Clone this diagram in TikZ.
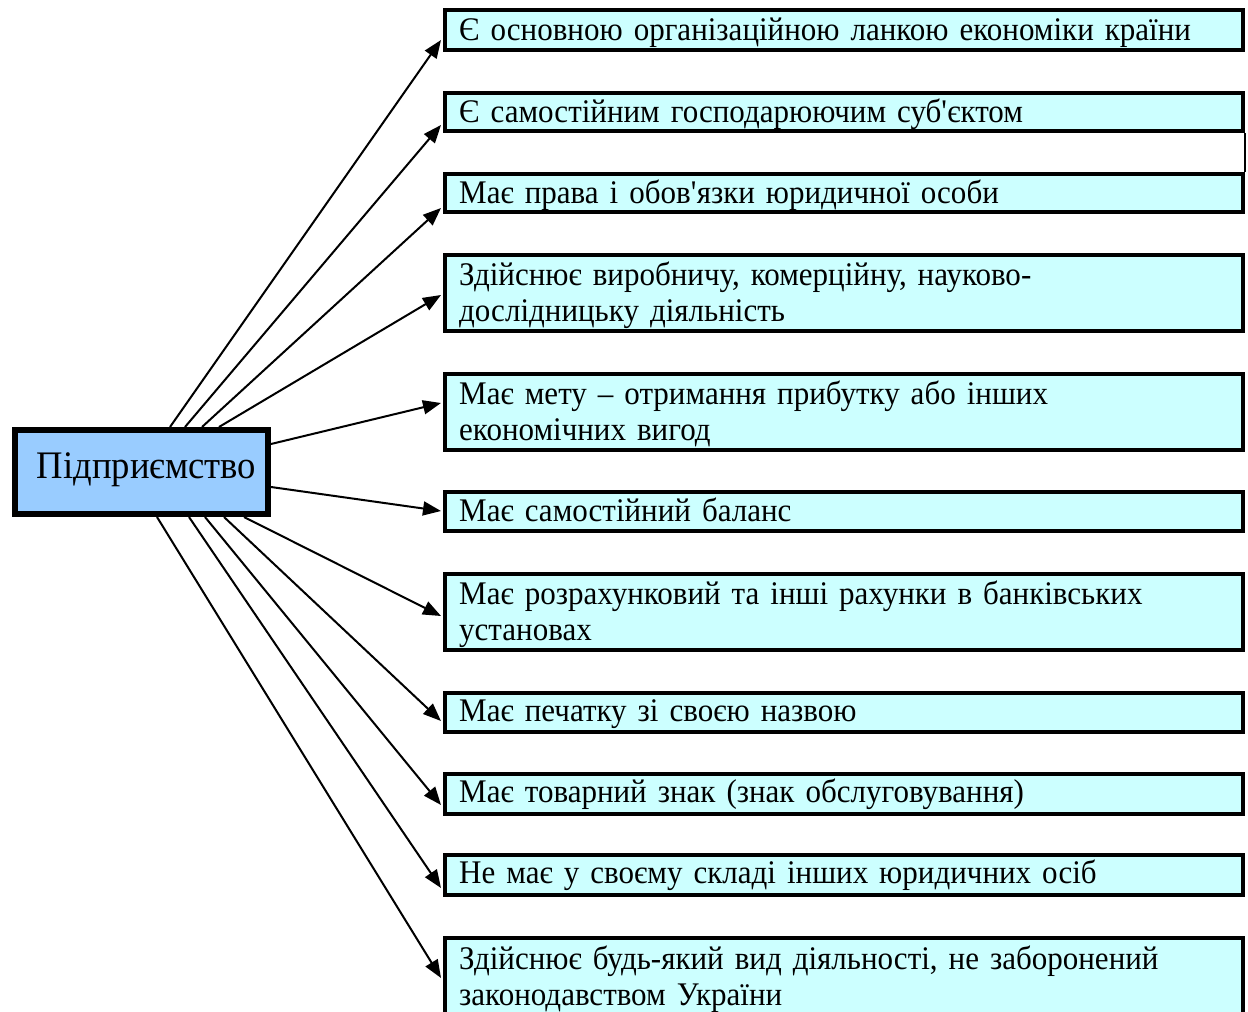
\documentclass[tikz,border=0pt]{standalone}
\usepackage{fontspec}
\setmainfont{Liberation Serif}[FakeStretch=0.94]
\usetikzlibrary{arrows.meta,calc}
\definecolor{boxfill}{HTML}{CCFFFF}
\definecolor{mainfill}{HTML}{99CCFF}
\newcommand{\apos}{\textquotesingle}
\begin{document}
\begin{tikzpicture}[x=1pt,y=-1pt,
  itembox/.style={draw=black,line width=4pt,fill=boxfill,minimum width=798pt,inner sep=0pt},
  itemtext/.style={anchor=base west,inner sep=0pt,text width=770pt,align=left,
    font=\fontsize{33}{36}\selectfont},
  mainbox/.style={draw=black,line width=6pt,fill=mainfill,minimum width=253pt,
    minimum height=84pt,inner sep=0pt,text height=27pt,text depth=15pt,
    font=\fontsize{39}{44}\selectfont},
  arr/.style={line width=2pt,-{Triangle[length=18pt,width=14pt]}}]
\useasboundingbox (0,0) rectangle (1248,1012);
\clip (0,0) rectangle (1248,1012);
\node[mainbox] (c) at (141.5,472) {\hspace*{10pt}Підприємство};
\node[itembox,minimum height=40pt] (b1) at (844,30) {};
\node[itembox,minimum height=38pt] (b2) at (844,112) {};
\node[itembox,minimum height=38pt] (b3) at (844,193) {};
\node[itembox,minimum height=76pt] (b4) at (844,293) {};
\node[itembox,minimum height=76pt] (b5) at (844,412) {};
\node[itembox,minimum height=39pt] (b6) at (844,511.5) {};
\node[itembox,minimum height=76pt] (b7) at (844,612) {};
\node[itembox,minimum height=39pt] (b8) at (844,712.5) {};
\node[itembox,minimum height=40pt] (b9) at (844,794) {};
\node[itembox,minimum height=40pt] (b10) at (844,875) {};
\node[itembox,minimum height=80pt] (b11) at (844,978) {};
\node[itemtext] (t1) at ($(b1.north west)+(16,32)$) {Є основною організаційною ланкою економіки країни};
\node[itemtext] (t2) at ($(b2.north west)+(16,31)$) {Є самостійним господарюючим суб\apos єктом};
\node[itemtext] (t3) at ($(b3.north west)+(16,31)$) {Має права і обов\apos язки юридичної особи};
\node[itemtext] (t4) at ($(b4.north west)+(16,32)$) {Здійснює виробничу, комерційну, науково-\\дослідницьку діяльність};
\node[itemtext] (t5) at ($(b5.north west)+(16,32)$) {Має мету – отримання прибутку або інших\\економічних вигод};
\node[itemtext] (t6) at ($(b6.north west)+(16,31)$) {Має самостійний баланс};
\node[itemtext] (t7) at ($(b7.north west)+(16,32)$) {Має розрахунковий та інші рахунки в банківських\\установах};
\node[itemtext] (t8) at ($(b8.north west)+(16,30)$) {Має печатку зі своєю назвою};
\node[itemtext] (t9) at ($(b9.north west)+(16,30)$) {Має товарний знак (знак обслуговування)};
\node[itemtext] (t10) at ($(b10.north west)+(16,30)$) {Не має у своєму складі інших юридичних осіб};
\node[itemtext] (t11) at ($(b11.north west)+(16,33)$) {Здійснює будь-який вид діяльності, не заборонений\\законодавством України};
\draw[line width=2pt] (b2.south east) -- (b3.north east);
\draw[arr] ($(c.north west)+(158,0)$) -- ($(b1.north west)+(-2,32)$);
\draw[arr] ($(c.north west)+(173,0)$) -- ($(b2.north west)+(-2,34)$);
\draw[arr] ($(c.north west)+(190,0)$) -- ($(b3.north west)+(-2,36)$);
\draw[arr] ($(c.north west)+(207,0)$) -- ($(b4.north west)+(-2,42)$);
\draw[arr] ($(c.north east)+(0,17)$) -- ($(b5.north west)+(-2,31)$);
\draw[arr] ($(c.north east)+(0,60)$) -- ($(b6.north west)+(-2,21)$);
\draw[arr] ($(c.south west)+(232,0)$) -- ($(b7.north west)+(-2,44)$);
\draw[arr] ($(c.south west)+(212,0)$) -- ($(b8.north west)+(-2,30)$);
\draw[arr] ($(c.south west)+(193,0)$) -- ($(b9.north west)+(-2,33)$);
\draw[arr] ($(c.south west)+(177,0)$) -- ($(b10.north west)+(-2,35)$);
\draw[arr] ($(c.south west)+(145,0)$) -- ($(b11.north west)+(-2,42)$);
\end{tikzpicture}
\end{document}
